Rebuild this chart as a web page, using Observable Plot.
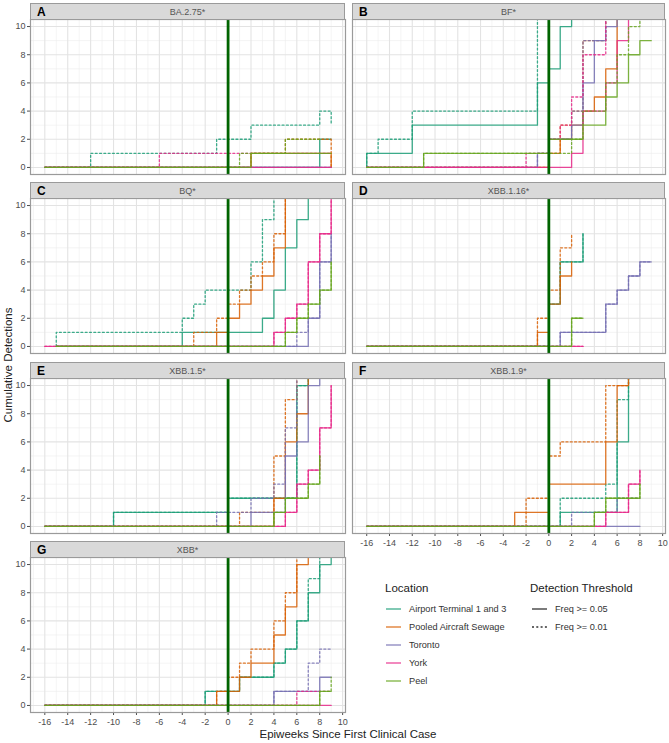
<!DOCTYPE html>
<html><head><meta charset="utf-8">
<script src="https://cdn.jsdelivr.net/npm/d3@7"></script>
<script src="https://cdn.jsdelivr.net/npm/@observablehq/plot@0.6"></script>
<style>
body{margin:0;background:#fff;font-family:"Liberation Sans",Arial,sans-serif;}
#root{position:relative;width:669px;height:743px;overflow:hidden;background:#fff;}
.strip{position:absolute;background:#d9d9d9;border:1px solid #9a9a9a;box-sizing:border-box;}
.strip .lt{position:absolute;left:6px;top:0;bottom:0;display:flex;align-items:center;font-weight:bold;font-size:12px;color:#000;}
.strip .tt{position:absolute;left:0;right:0;top:0;bottom:0;display:flex;align-items:center;justify-content:center;font-size:9px;color:#555;}
.lg{position:absolute;white-space:nowrap;}
.lgrow{position:absolute;height:18px;display:flex;align-items:center;font-size:9.2px;color:#333;white-space:nowrap;}
.lgrow svg{margin-right:7px;}
</style></head><body><div id="root"></div>
<script>
// ---------- categories / labels ----------
const locations = ["Airport Terminal 1 and 3","Pooled Aircraft Sewage","Toronto","York","Peel"];
const locationColors = ["#1b9e77","#d95f02","#7570b3","#e7298a","#66a61e"];
const thresholds = ["Freq >= 0.05","Freq >= 0.01"];
const panelLetters = ["A","B","C","D","E","F","G"];
const panelTitles = ["BA.2.75*","BF*","BQ*","XBB.1.16*","XBB.1.5*","XBB.1.9*","XBB*"];
const xTicks = [-16,-14,-12,-10,-8,-6,-4,-2,0,2,4,6,8,10];
const xMinor = [-17,-15,-13,-11,-9,-7,-5,-3,-1,1,3,5,7,9];
const yTicks = [0,2,4,6,8,10];
const yMinor = [1,3,5,7,9];
const firstClinicalWeek = [0];
const L = locations, T = thresholds;

// ---------- series: [location, threshold, [[epiweek, cumulative detections], ...]] ----------
const seriesA = [
  [L[0],T[0],[[-16,0],[8,2],[9,2]]],
  [L[0],T[1],[[-16,0],[-12,1],[-1,2],[2,3],[8,4],[9,3]]],
  [L[1],T[0],[[-16,0],[2,1],[9,0]]],
  [L[1],T[1],[[-16,0],[2,1],[5,2],[9,0]]],
  [L[2],T[0],[[-16,0],[9,0]]],
  [L[2],T[1],[[-16,0],[9,0]]],
  [L[3],T[0],[[-16,0],[9,0]]],
  [L[3],T[1],[[-16,0],[-6,1],[9,1]]],
  [L[4],T[0],[[-16,0],[2,1],[9,1]]],
  [L[4],T[1],[[-16,0],[1,1],[5,2],[8,2]]]
];
const seriesB = [
  [L[0],T[0],[[-16,0],[-16,1],[-12,3],[-1,6],[0,7],[1,10],[2,12]]],
  [L[0],T[1],[[-16,0],[-16,1],[-15,2],[-12,4],[-1,12]]],
  [L[1],T[0],[[-16,0],[0,1],[1,2],[2,3],[3,4],[4,5],[5,7],[6,12]]],
  [L[1],T[1],[[-16,0],[0,1],[1,3],[2,4],[3,9],[5,12]]],
  [L[2],T[0],[[-16,0],[-1,1],[0,2],[2,3],[3,6],[4,9],[5,10],[6,12]]],
  [L[2],T[1],[[-16,0],[-1,1],[0,2],[2,4],[3,9],[5,12]]],
  [L[3],T[0],[[-16,0],[2,1],[3,4],[5,6],[6,9],[7,12]]],
  [L[3],T[1],[[-16,0],[-2,1],[0,2],[1,3],[2,5],[3,8],[5,12]]],
  [L[4],T[0],[[-16,0],[-11,1],[0,2],[3,3],[5,5],[6,6],[7,8],[8,9],[9,9]]],
  [L[4],T[1],[[-16,0],[-11,1],[2,2],[3,4],[5,6],[6,8],[7,10],[8,12]]]
];
const seriesC = [
  [L[0],T[0],[[-15,0],[-4,1],[3,2],[4,4],[5,7],[6,9],[7,12]]],
  [L[0],T[1],[[-15,0],[-15,1],[-4,2],[-3,3],[-2,4],[2,6],[3,9],[4,12]]],
  [L[1],T[0],[[-15,0],[-1,1],[0,2],[1,3],[2,4],[3,5],[4,7],[5,12]]],
  [L[1],T[1],[[-15,0],[-3,1],[-1,2],[0,3],[1,4],[2,5],[3,6],[4,8],[5,12]]],
  [L[2],T[0],[[-15,0],[7,2],[8,6],[9,8]]],
  [L[2],T[1],[[-15,0],[6,1],[7,2],[8,6],[9,8]]],
  [L[3],T[0],[[-16,0],[4,1],[5,2],[6,3],[7,6],[8,8],[9,12]]],
  [L[3],T[1],[[-16,0],[4,1],[5,2],[6,3],[7,6],[8,8],[9,12]]],
  [L[4],T[0],[[-15,0],[5,1],[6,2],[7,3],[8,4],[9,6]]],
  [L[4],T[1],[[-15,0],[5,1],[6,2],[7,3],[8,4],[9,6]]]
];
const seriesD = [
  [L[0],T[0],[[-16,0],[0,3],[1,6],[3,8]]],
  [L[0],T[1],[[-16,0],[0,3],[1,6],[3,8]]],
  [L[1],T[0],[[-16,0],[-1,1],[0,3],[1,5],[2,6]]],
  [L[1],T[1],[[-16,0],[-1,2],[0,4],[1,7],[2,8]]],
  [L[2],T[0],[[-16,0],[1,1],[5,3],[6,4],[7,5],[8,6],[9,6]]],
  [L[2],T[1],[[-16,0],[1,1],[5,3],[6,4],[7,5],[8,6],[9,6]]],
  [L[3],T[0],[[-16,0],[3,0]]],
  [L[3],T[1],[[-16,0],[3,0]]],
  [L[4],T[0],[[-16,0],[2,2],[3,2]]],
  [L[4],T[1],[[-16,0],[2,2],[3,2]]]
];
const seriesE = [
  [L[0],T[0],[[-16,0],[-10,1],[0,2],[6,10],[7,12]]],
  [L[0],T[1],[[-16,0],[-10,1],[0,2],[6,10],[7,12]]],
  [L[1],T[0],[[-16,0],[4,2],[5,6],[6,8],[7,12]]],
  [L[1],T[1],[[-16,0],[1,1],[4,5],[5,9],[6,12]]],
  [L[2],T[0],[[-16,0],[2,1],[5,5],[6,6],[7,10],[8,12]]],
  [L[2],T[1],[[-16,0],[-1,1],[2,2],[4,3],[5,7],[6,12]]],
  [L[3],T[0],[[-16,0],[5,1],[6,3],[7,4],[8,7],[9,10]]],
  [L[3],T[1],[[-16,0],[5,1],[6,3],[7,4],[8,7],[9,10]]],
  [L[4],T[0],[[-16,0],[4,1],[5,2],[7,3],[8,5]]],
  [L[4],T[1],[[-16,0],[4,1],[5,2],[7,3],[8,5]]]
];
const seriesF = [
  [L[0],T[0],[[-16,0],[1,1],[6,6],[7,12]]],
  [L[0],T[1],[[-16,0],[1,2],[5,3],[6,9],[7,12]]],
  [L[1],T[0],[[-16,0],[-3,1],[0,3],[5,6],[6,10],[7,12]]],
  [L[1],T[1],[[-16,0],[-2,2],[0,5],[1,6],[5,10],[7,12]]],
  [L[2],T[0],[[-16,0],[8,0]]],
  [L[2],T[1],[[-16,0],[2,1],[6,2],[8,2]]],
  [L[3],T[0],[[-16,0],[5,1],[7,3],[8,4]]],
  [L[3],T[1],[[-16,0],[5,1],[7,3],[8,4]]],
  [L[4],T[0],[[-16,0],[4,1],[5,2],[8,3]]],
  [L[4],T[1],[[-16,0],[4,1],[5,2],[8,3]]]
];
const seriesG = [
  [L[0],T[0],[[-16,0],[-2,1],[1,2],[4,3],[5,4],[6,6],[7,8],[8,10],[9,12]]],
  [L[0],T[1],[[-16,0],[-2,1],[1,2],[4,3],[5,4],[6,6],[7,9],[8,12]]],
  [L[1],T[0],[[-16,0],[-1,1],[1,2],[2,3],[4,5],[5,7],[6,10],[7,12]]],
  [L[1],T[1],[[-16,0],[-1,1],[0,2],[1,3],[2,4],[4,6],[5,8],[6,12]]],
  [L[2],T[0],[[-16,0],[4,1],[8,2],[9,2]]],
  [L[2],T[1],[[-16,0],[4,1],[7,3],[8,4],[9,4]]],
  [L[3],T[0],[[-16,0],[9,0]]],
  [L[3],T[1],[[-16,0],[6,1],[9,1]]],
  [L[4],T[0],[[-16,0],[8,1],[9,1]]],
  [L[4],T[1],[[-16,0],[8,1],[9,2]]]
];

// ---------- layout ----------
const root = document.getElementById("root");
const cols = [[30,345],[352,665]];
const stripTops = [3,182,362,541];
const stripH = 17, plotH = 155;
const panelSeries = [seriesA,seriesB,seriesC,seriesD,seriesE,seriesF,seriesG];
const panelPos = [[0,0],[1,0],[0,1],[1,1],[0,2],[1,2],[0,3]];
const withXAxis = [false,false,false,false,false,true,true];
const FONT = '"Liberation Sans", Arial, sans-serif';

panelSeries.forEach((series, i) => {
  const [col,row] = panelPos[i];
  const [x0,x1] = cols[col];
  const top = stripTops[row] + stripH - 1;
  const mL = 30, mR = 4, mT = 1, mB = 22;
  const marks = [
    Plot.ruleX(xMinor, {stroke:"#ededed", strokeWidth:0.6}),
    Plot.ruleY(yMinor, {stroke:"#ededed", strokeWidth:0.6}),
    Plot.ruleX(xTicks, {stroke:"#e3e3e3", strokeWidth:1.1}),
    Plot.ruleY(yTicks, {stroke:"#e3e3e3", strokeWidth:1.1})
  ];
  series.forEach(([loc, thr, pts]) => {
    const rows = pts.map(([w,c]) => ({week:w, count:c, location:loc}));
    const opts = {x:"week", y:"count", stroke:"location", curve:"step-after",
      strokeWidth:1.3, strokeOpacity:0.85, clip:true};
    if (thr === thresholds[1]) opts.strokeDasharray = "2,2.3";
    marks.push(Plot.line(rows, opts));
  });
  marks.push(Plot.ruleX(firstClinicalWeek, {stroke:"#006400", strokeWidth:2.8}));
  marks.push(Plot.frame({stroke:"#9a9a9a", strokeWidth:1.2}));
  const svg = Plot.plot({
    width: (x1-x0)+mL+mR, height: plotH+mT+mB,
    marginLeft:mL, marginRight:mR, marginTop:mT, marginBottom:mB,
    x:{domain:[-17.25,10.25], axis: withXAxis[i] ? "bottom" : null, ticks:xTicks, tickSize:3, tickPadding:3, label:null, tickFormat:d=>String(d).replace("-","-")},
    y:{domain:[-0.5,10.5], axis: col===0 ? "left" : null, ticks:yTicks, tickSize:3, tickPadding:2, label:null},
    color:{domain:locations, range:locationColors},
    style:{background:"transparent", fontFamily:FONT, fontSize:"9px", color:"#4d4d4d", overflow:"visible"},
    marks
  });
  svg.style.position = "absolute";
  svg.style.left = (x0-mL) + "px";
  svg.style.top = (top-mT) + "px";
  svg.style.maxWidth = "none";
  root.appendChild(svg);

  const strip = document.createElement("div");
  strip.className = "strip";
  Object.assign(strip.style, {left:x0+"px", top:stripTops[row]+"px", width:(x1-x0)+"px", height:stripH+"px"});
  strip.innerHTML = `<div class="tt">${panelTitles[i]}</div><div class="lt">${panelLetters[i]}</div>`;
  root.appendChild(strip);
});

// axis titles
const xt = document.createElement("div");
xt.className = "lg";
xt.textContent = "Epiweeks Since First Clinical Case";
Object.assign(xt.style, {left:"0px", width:"696px", textAlign:"center", top:"728px", fontSize:"11.5px", color:"#222"});
root.appendChild(xt);

const yt = document.createElement("div");
yt.className = "lg";
yt.textContent = "Cumulative Detections";
Object.assign(yt.style, {left:"-62px", top:"359px", width:"140px", textAlign:"center", fontSize:"11.5px", color:"#222", transform:"rotate(-90deg)"});
root.appendChild(yt);

// legend
function addTitle(text, left) {
  const d = document.createElement("div");
  d.className = "lg";
  d.textContent = text;
  Object.assign(d.style, {left:left+"px", top:"582px", fontSize:"11.5px", color:"#222"});
  root.appendChild(d);
}
addTitle("Location", 385);
addTitle("Detection Threshold", 530);
locations.forEach((loc, k) => {
  const r = document.createElement("div");
  r.className = "lgrow";
  Object.assign(r.style, {left:"385px", top:(599.5 + 18*k)+"px"});
  r.innerHTML = `<svg width="17" height="10"><line x1="1" x2="16" y1="5" y2="5" stroke="${locationColors[k]}" stroke-opacity="0.85" stroke-width="1.3"/></svg><span>${loc}</span>`;
  root.appendChild(r);
});
thresholds.forEach((thr, k) => {
  const r = document.createElement("div");
  r.className = "lgrow";
  Object.assign(r.style, {left:"531px", top:(599.5 + 18*k)+"px"});
  const dash = k === 1 ? 'stroke-dasharray="2,2.3"' : '';
  r.innerHTML = `<svg width="17" height="10"><line x1="1" x2="16" y1="5" y2="5" stroke="#333" stroke-width="1.3" ${dash}/></svg><span>${thr.replace(/>/g,"&gt;")}</span>`;
  root.appendChild(r);
});
</script></body></html>
